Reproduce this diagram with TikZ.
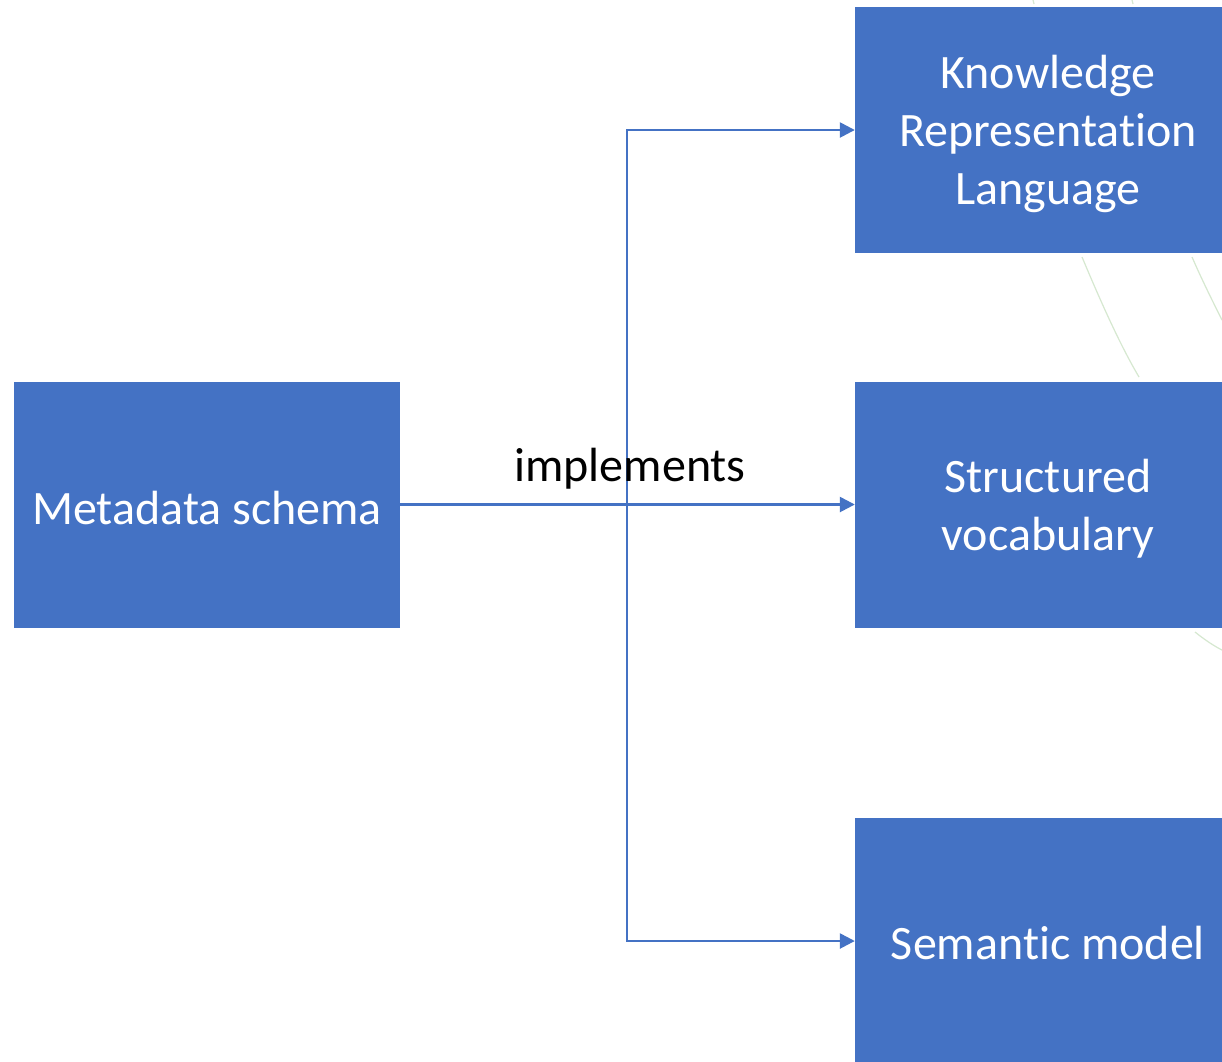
\documentclass[tikz,border=0pt]{standalone}
\usepackage{fontspec}
\setmainfont{Carlito}[Ligatures=NoCommon]
\usetikzlibrary{arrows.meta}
\definecolor{boxblue}{HTML}{4472C4}
\definecolor{faint}{HTML}{D6E8D0}
\tikzset{
  bluebox/.style={fill=boxblue, draw=none,
    minimum width=386pt, minimum height=246pt, inner sep=0pt},
  boxtext/.style={text=white, align=center, inner sep=0pt,
    font=\fontsize{48}{58}\selectfont},
  conn/.style={draw=boxblue, line width=2.5pt, -{Triangle[length=15pt,width=15pt]}},
  lbl/.style={text=black, font=\fontsize{48}{58}\selectfont, inner sep=0pt},
  deco/.style={draw=faint, line width=1.2pt}
}
\begin{document}
\begin{tikzpicture}[x=1pt,y=-1pt]
\useasboundingbox (0,0) rectangle (1222,1061);
\clip (0,0) rectangle (1222,1061);
\fill[white] (0,0) rectangle (1222,1061);
% faint background arcs
\draw[deco] (1082,257) .. controls (1100,300) and (1120,345) .. (1139,377);
\draw[deco] (1192,257) .. controls (1202,280) and (1212,300) .. (1222,320);
\draw[deco] (1195,632) .. controls (1205,640) and (1214,646) .. (1222,650);
\draw[deco] (1033,0) -- (1034,4);
\draw[deco] (1132,0) -- (1133,4);
% boxes
\node[bluebox] (meta) at (207,504.5) {};
\node[bluebox] (krl) at (1048,130) {};
\node[bluebox] (sv) at (1048,504.5) {};
\node[bluebox] (sm) at (1048,941) {};
\node[boxtext] (metat) at ([yshift=-3pt]meta.center) {Metadata schema};
\node[boxtext] (krlt) at ([yshift=-4pt]krl.center) {Knowledge\\Representation\\Language};
\node[boxtext] (svt) at ([yshift=-4pt]sv.center) {Structured\\vocabulary};
\node[boxtext] (smt) at ([yshift=-2pt]sm.center) {Semantic model};
% connectors
\coordinate (split) at (627,504.5);
\draw[conn] (meta.east) -- (sv.west);
\draw[conn] (meta.east) -- (split) |- (krl.west);
\draw[conn] (meta.east) -- (split) |- (sm.west);
\node[lbl] (impl) at (630,469) {implements};
\end{tikzpicture}
\end{document}
